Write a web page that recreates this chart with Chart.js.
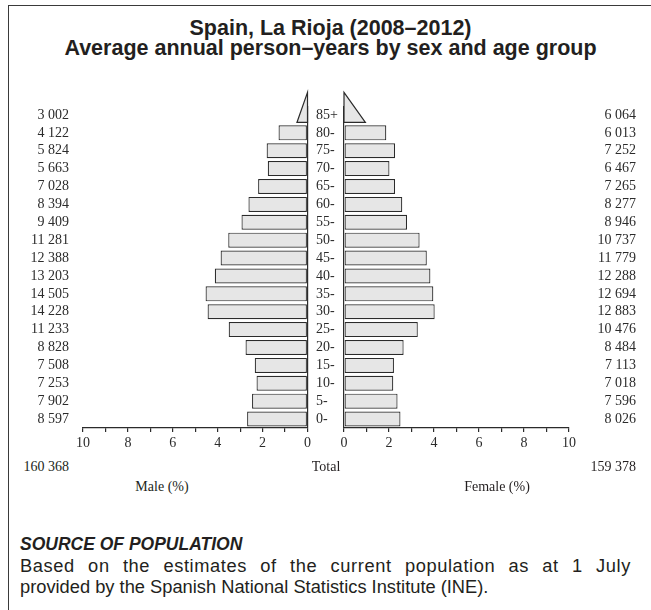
<!DOCTYPE html>
<html><head><meta charset="utf-8">
<script src="https://cdn.jsdelivr.net/npm/chart.js@4.4.1/dist/chart.umd.min.js"></script>
<style>
html,body{margin:0;padding:0;background:#fff;}
body{width:651px;height:610px;overflow:hidden;position:relative;font-family:"Liberation Sans",Arial,sans-serif;color:#231f20;}
#frame{position:absolute;left:8px;top:5px;width:700px;height:700px;border-left:1.5px solid #3a3a3a;border-top:1.5px solid #3a3a3a;}
#title{position:absolute;left:5px;width:651px;top:18px;text-align:center;font-weight:bold;font-size:21.5px;line-height:20px;}
.s{position:absolute;font-family:"Liberation Serif","Times New Roman",serif;font-size:14px;white-space:nowrap;line-height:16px;}
#cl{position:absolute;left:0;top:80px;width:322px;height:372px;}
#cr{position:absolute;left:316px;top:80px;width:335px;height:372px;}
#src{position:absolute;left:20px;top:534px;font-weight:bold;font-style:italic;font-size:17.5px;line-height:21px;}
#note{position:absolute;left:20px;top:555px;width:611px;font-size:18.3px;line-height:21px;}
#note .l1{text-align:justify;text-align-last:justify;letter-spacing:0.6px;}
</style></head>
<body>
<div id="frame"></div>
<div id="title">Spain, La Rioja (2008–2012)<br>Average annual person–years by sex and age group</div>
<div id="cl"><canvas id="male"></canvas></div>
<div id="cr"><canvas id="female"></canvas></div>
<div class="s" style="right:582px;top:459px;">160 368</div>
<div class="s" style="left:326px;top:459px;transform:translateX(-50%);">Total</div>
<div class="s" style="right:15px;top:459px;">159 378</div>
<div class="s" style="left:162px;top:479px;transform:translateX(-50%);">Male (%)</div>
<div class="s" style="left:497px;top:479px;transform:translateX(-50%);">Female (%)</div>
<div id="src">SOURCE OF POPULATION</div>
<div id="note"><div class="l1">Based on the estimates of the current population as at 1 July</div><div>provided by the Spanish National Statistics Institute (INE).</div></div>
<script>
// Age groups, youngest first
const ageGroups = ['0-','5-','10-','15-','20-','25-','30-','35-','40-','45-','50-','55-','60-','65-','70-','75-','80-','85+'];
// Average annual person-years
const maleCounts = ['8 597','7 902','7 253','7 508','8 828','11 233','14 228','14 505','13 203','12 388','11 281','9 409','8 394','7 028','5 663','5 824','4 122','3 002'];
const femaleCounts = ['8 026','7 596','7 018','7 113','8 484','10 476','12 883','12 694','12 288','11 779','10 737','8 946','8 277','7 265','6 467','7 252','6 013','6 064'];
// Share of total population (%)
const malePct = [2.69,2.47,2.27,2.35,2.76,3.51,4.45,4.54,4.13,3.87,3.53,2.94,2.63,2.20,1.77,1.82,1.29,0.94];
const femalePct = [2.51,2.38,2.19,2.22,2.65,3.28,4.03,3.97,3.84,3.68,3.36,2.80,2.59,2.27,2.02,2.27,1.88,1.90];
const xTicks = [0,2,4,6,8,10];

const INK = '#2b2b2b';
const FILL = '#e6e6e6';
const serif = {family:"'Liberation Serif','Times New Roman',serif", size:14};
const lastIdx = ageGroups.length - 1;

const triPlugin = {
  id:'openTri',
  afterDatasetsDraw(chart){
    const meta = chart.getDatasetMeta(0);
    const el = meta.data[lastIdx];
    const xs = chart.scales.x;
    const v = chart.data.datasets[0].data[lastIdx];
    const x0 = xs.getPixelForValue(0);
    const x1 = xs.getPixelForValue(v/2);
    const yb = el.y + el.height/2;
    const yt = yb - 2*el.height;
    const ctx = chart.ctx;
    ctx.save();
    ctx.beginPath();
    ctx.moveTo(x0,yt); ctx.lineTo(x1,yb); ctx.lineTo(x0,yb); ctx.closePath();
    ctx.fillStyle = FILL; ctx.fill();
    ctx.lineWidth = 1.2; ctx.strokeStyle = INK; ctx.stroke();
    ctx.restore();
  }
};

function xAxis(reverse){
  return {
    type:'linear', min:0, max:10, reverse,
    afterFit(s){ s.height = 24; },
    border:{display:true,color:INK,width:1.2},
    grid:{drawOnChartArea:true, drawTicks:true, tickLength:4, tickColor:INK, tickWidth:1.2,
      color:(c)=> (c.tick && c.tick.value===0) ? INK : 'rgba(0,0,0,0)', lineWidth:1.2},
    ticks:{stepSize:1, autoSkip:false, padding:3, color:INK, font:serif, maxRotation:0,
      callback:(v)=> xTicks.includes(v) ? String(v) : ''}
  };
}

function makeChart(id, pct, counts, left){
  const scales = {x: xAxis(left)};
  if (left){
    scales.y = {type:'category', labels:counts, reverse:true, position:'left', offset:true,
      afterFit(s){ s.width = 83; },
      border:{display:false}, grid:{display:false, drawTicks:false},
      ticks:{crossAlign:'near', padding:14, color:INK, font:serif, autoSkip:false}};
  } else {
    scales.y = {type:'category', labels:ageGroups, reverse:true, position:'left', offset:true,
      afterFit(s){ s.width = 28; },
      border:{display:false}, grid:{display:false, drawTicks:false},
      ticks:{crossAlign:'far', padding:0, color:INK, font:serif, autoSkip:false}};
    scales.y2 = {type:'category', labels:counts, reverse:true, position:'right', offset:true,
      afterFit(s){ s.width = 67; },
      border:{display:false}, grid:{display:false, drawTicks:false},
      ticks:{crossAlign:'far', padding:0, color:INK, font:serif, autoSkip:false}};
  }
  return new Chart(document.getElementById(id), {
    type:'bar',
    data:{labels: left ? counts : ageGroups, datasets:[{
      data:pct,
      backgroundColor:(c)=> c.dataIndex===lastIdx ? 'rgba(0,0,0,0)' : FILL,
      borderColor:(c)=> c.dataIndex===lastIdx ? 'rgba(0,0,0,0)' : INK,
      borderWidth:1.2, borderSkipped:false,
      barPercentage:0.84, categoryPercentage:1
    }]},
    options:{
      indexAxis:'y', responsive:true, maintainAspectRatio:false, animation:false,
      layout:{padding:{top:26, bottom:0, left:0, right: left ? 14.5 : 15}},
      plugins:{legend:{display:false}, tooltip:{enabled:false}, title:{display:false}},
      scales
    },
    plugins:[triPlugin]
  });
}
makeChart('male', malePct, maleCounts, true);
makeChart('female', femalePct, femaleCounts, false);
</script>
</body></html>
